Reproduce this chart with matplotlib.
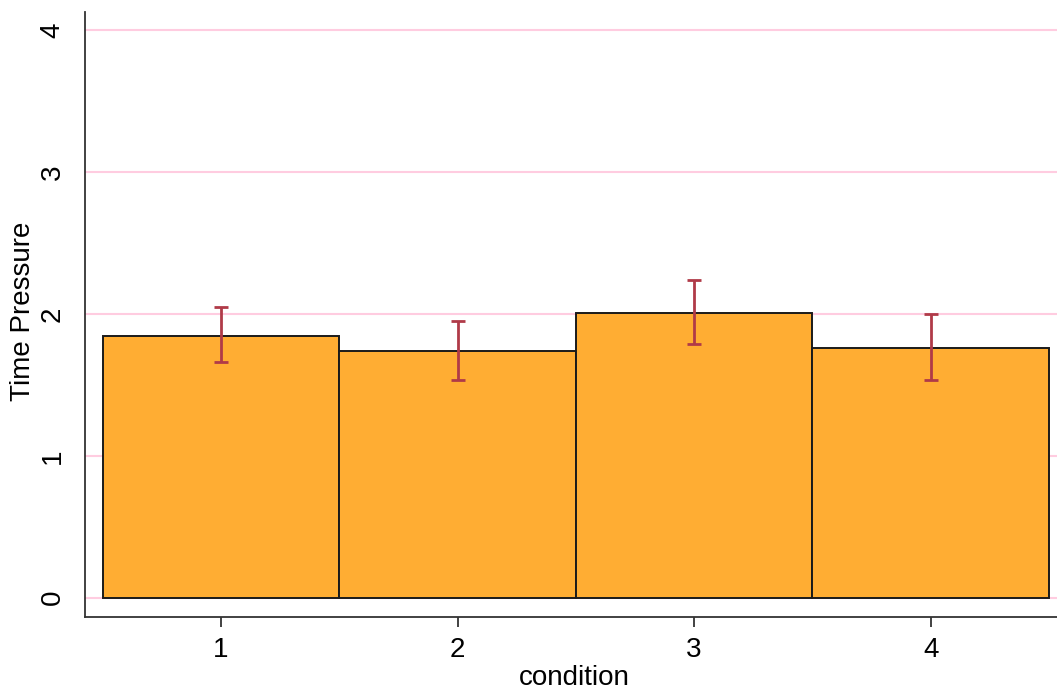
import matplotlib
matplotlib.use('Agg')
import matplotlib.pyplot as plt

conditions = [1, 2, 3, 4]
means = [1.845, 1.737, 2.007, 1.756]
err_low = [1.658, 1.533, 1.785, 1.533]
err_high = [2.049, 1.949, 2.239, 1.996]

plt.rcParams['font.family'] = ['Liberation Sans', 'DejaVu Sans']

fig = plt.figure(figsize=(10.57, 6.92), dpi=100)
ax = fig.add_axes([85 / 1057, 1 - 617 / 692, 1 - 85 / 1057, (617 - 12) / 692])

for y in [0, 1, 2, 3, 4]:
    ax.axhline(y, color='#ffcce0', lw=1.5, zorder=0)

ax.bar(conditions, means, width=1.0, color='#ffad33', edgecolor='#1a1a1a', linewidth=1.4, zorder=2)

yerr = [[m - lo for m, lo in zip(means, err_low)], [hi - m for m, hi in zip(means, err_high)]]
ax.errorbar(conditions, means, yerr=yerr, fmt='none', ecolor='#b03a48', elinewidth=2,
            capsize=5, capthick=2, zorder=3)

ax.set_xlim(0.425, 4.534)
ax.set_ylim(-0.136, 4.127)
ax.set_xticks(conditions)
ax.set_yticks([0, 1, 2, 3, 4])
ax.tick_params(axis='y', length=0, pad=14, labelsize=20, labelrotation=90)
ax.tick_params(axis='x', length=7.5, width=1.3, pad=7, labelsize=20, color='#333333')
for lab in ax.get_yticklabels():
    lab.set_va('center')

ax.spines['top'].set_visible(False)
ax.spines['right'].set_visible(False)
for s in ['left', 'bottom']:
    ax.spines[s].set_linewidth(1.3)
    ax.spines[s].set_color('#333333')

ax.set_xlabel('condition', fontsize=20, va='top')
ax.xaxis.set_label_coords(0.503, -0.0793)
ax.set_ylabel('Time Pressure', fontsize=20, va='center')
ax.yaxis.set_label_coords(-0.0635, 0.506)

fig.savefig('out.png', dpi=100)
